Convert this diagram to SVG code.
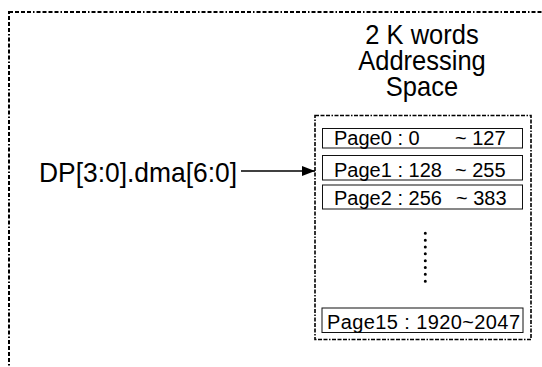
<svg xmlns="http://www.w3.org/2000/svg" width="542" height="367" viewBox="0 0 542 367">
  <defs>
    <marker id="arrowhead" markerWidth="13" markerHeight="10" refX="13" refY="5" orient="auto" markerUnits="userSpaceOnUse">
      <path d="M0,0 L13,5 L0,10 Z" fill="#000"/>
    </marker>
  </defs>
  <style>
    .frame { fill: none; stroke: #000; stroke-width: 2; stroke-dasharray: 4 2 4 2 4 2 4 2 1.5 2; }
    .space { fill: #fff; stroke: #000; stroke-width: 1.6; stroke-dasharray: 4 1.5 4 1.5 4 1.5 1.5 1.5; }
    .page { fill: #fff; stroke: #111; stroke-width: 1; }
    .lbl { font-family: "Liberation Sans", Arial, Helvetica, sans-serif; fill: #000; }
    .big { font-size: 26.4px; }
    .title { font-size: 25.5px; text-anchor: middle; }
    .pg { font-size: 20px; }
    .wire { stroke: #000; stroke-width: 1.5; fill: none; }
  </style>
  <rect width="542" height="367" fill="#fff"/>

  <!-- outer frame, continues beyond the right and bottom edges -->
  <g id="frame">
    <rect class="frame" x="9" y="12" width="580" height="420"/>
  </g>

  <!-- address input label (glyphs slightly taller than wide) -->
  <g id="address-input">
    <text class="lbl big" transform="translate(39 181.5) scale(1 1.06)">DP[3:0].dma[6:0]</text>
  </g>

  <!-- title over the address space -->
  <g id="space-title">
    <text class="lbl title" transform="translate(422 44) scale(1 1.07)">2 K words</text>
    <text class="lbl title" transform="translate(422 70) scale(1 1.07)">Addressing</text>
    <text class="lbl title" transform="translate(422 96) scale(1 1.07)">Space</text>
  </g>

  <!-- address space with its pages -->
  <g id="address-space">
    <rect class="space" x="315" y="115.5" width="216" height="224"/>
  </g>
  <g id="page0">
    <rect class="page" x="322.5" y="128.5" width="200" height="19.5"/>
    <text class="lbl pg" y="144.5"><tspan x="334">Page0 : 0</tspan><tspan x="455">~ 127</tspan></text>
  </g>
  <g id="page1">
    <rect class="page" x="322.5" y="155.5" width="200" height="24.5"/>
    <text class="lbl pg" y="176.5"><tspan x="334">Page1 : 128</tspan><tspan x="455">~ 255</tspan></text>
  </g>
  <g id="page2">
    <rect class="page" x="322.5" y="185" width="200" height="24"/>
    <text class="lbl pg" y="204.5"><tspan x="334">Page2 : 256</tspan><tspan x="456">~ 383</tspan></text>
  </g>
  <g id="ellipsis">
    <line x1="425.3" y1="233.3" x2="425.3" y2="288" stroke="#000" stroke-width="3" stroke-linecap="round" stroke-dasharray="0 6.84"/>
  </g>
  <g id="page15">
    <rect class="page" x="322" y="308" width="201" height="24.5"/>
    <text class="lbl pg" x="327" y="328.5" textLength="193">Page15 : 1920~2047</text>
  </g>

  <!-- connectors -->
  <g id="connectors">
    <line class="wire" x1="241" y1="171" x2="315" y2="171" marker-end="url(#arrowhead)"/>
  </g>
</svg>
